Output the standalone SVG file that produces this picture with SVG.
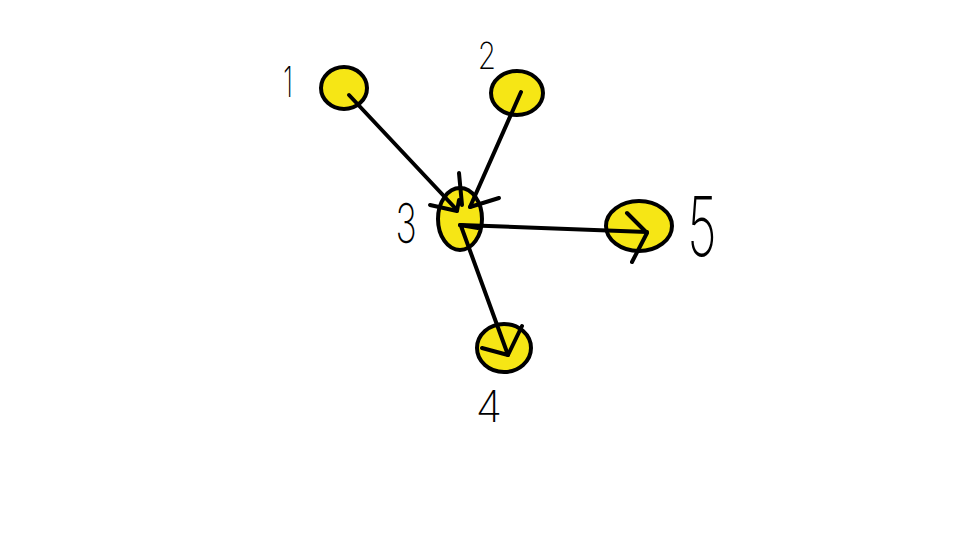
<svg xmlns="http://www.w3.org/2000/svg" width="960" height="540" viewBox="0 0 960 540">
<style>
.node{fill:#f6e615;stroke:#000;stroke-width:4}
.edge{fill:none;stroke:#000;stroke-width:4;stroke-linecap:round;stroke-linejoin:round}
.lbl{font-family:"Inter","DejaVu Sans",sans-serif;font-weight:200;fill:#000;text-anchor:middle}
</style>
<rect width="960" height="540" fill="#fff"/>
<g id="node1"><ellipse class="node" cx="344" cy="88" rx="23" ry="21"/><text class="lbl" transform="translate(288,97) scale(0.6,1)" font-size="42">1</text></g>
<g id="node2"><ellipse class="node" cx="517" cy="93" rx="26" ry="22"/><text class="lbl" transform="translate(487,69) scale(0.8,1)" font-size="37">2</text></g>
<g id="node3"><ellipse class="node" cx="460" cy="219" rx="22" ry="31"/><text class="lbl" transform="translate(406,243) scale(0.65,1)" font-size="55">3</text></g>
<g id="node4"><ellipse class="node" cx="504" cy="348" rx="27" ry="24"/><text class="lbl" transform="translate(489,422)" font-size="43">4</text></g>
<g id="node5"><ellipse class="node" cx="639" cy="226" rx="33" ry="25"/><text class="lbl" transform="translate(702,256) scale(0.62,1)" font-size="82">5</text></g>
<g id="connectors">
<path class="edge" d="M349,95 L457,210"/>
<path class="edge" d="M430,205 L457,211 L459,200"/>
<path class="edge" d="M521,92 L470,207"/>
<path class="edge" d="M459,173 L462,205 M499,198 L470,207"/>
<path class="edge" d="M460,225 L647,232"/>
<path class="edge" d="M627,213 L647,233 L632,262"/>
<path class="edge" d="M460,225 L478,228 M461,226 L508,355"/>
<path class="edge" d="M482,348 L508,355 L522,326"/>
</g>
</svg>
